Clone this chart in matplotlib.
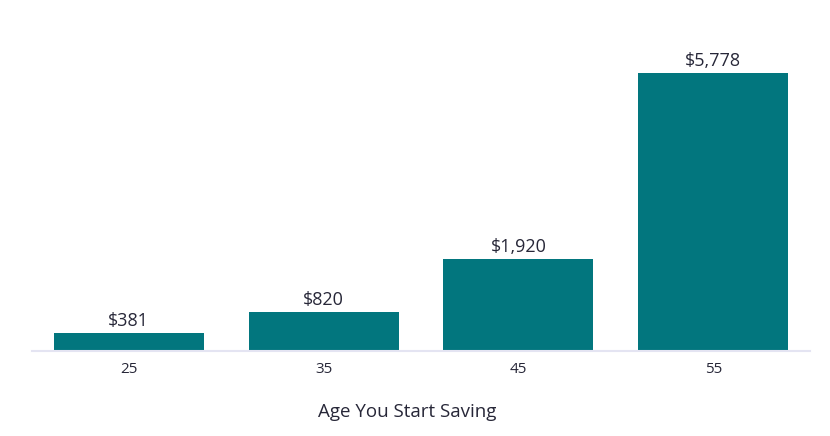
import matplotlib.pyplot as plt
import matplotlib as mpl

mpl.rcParams.update({
    "font.family": ["Open Sans", "DejaVu Sans"],
})

ages = ["25", "35", "45", "55"]
savings = [381, 820, 1920, 5778]
value_labels = ["$381", "$820", "$1,920", "$5,778"]

BAR_COLOR = "#02767E"
TEXT_COLOR = "#272738"

fig = plt.figure(figsize=(8.3, 4.36), dpi=100)
ax = fig.add_axes([32 / 830, 85 / 436, 778 / 830, 313 / 436])

x = list(range(len(ages)))
bars = ax.bar(x, savings, width=0.77, color=BAR_COLOR, zorder=2)

for rect, lab in zip(bars, value_labels):
    ax.annotate(lab, (rect.get_x() + rect.get_width() / 2, rect.get_height()),
                xytext=(0, 2), textcoords="offset points",
                ha="center", va="bottom", fontsize=13, color=TEXT_COLOR)

ax.set_xlim(-0.497, 3.497)
ax.set_ylim(0, 6500)
ax.set_xticks(x)
ax.set_xticklabels(ages, fontsize=11, color=TEXT_COLOR)
ax.tick_params(axis="x", length=0, pad=8)
ax.set_yticks([])
ax.set_xlabel("Age You Start Saving", fontsize=13.5, color=TEXT_COLOR, labelpad=15)
ax.xaxis.set_label_coords(0.482, -0.165)

for side in ["top", "right", "left"]:
    ax.spines[side].set_visible(False)
ax.spines["bottom"].set_color("#E4E4F2")
ax.spines["bottom"].set_linewidth(1.5)

fig.savefig("out.png", dpi=100)
